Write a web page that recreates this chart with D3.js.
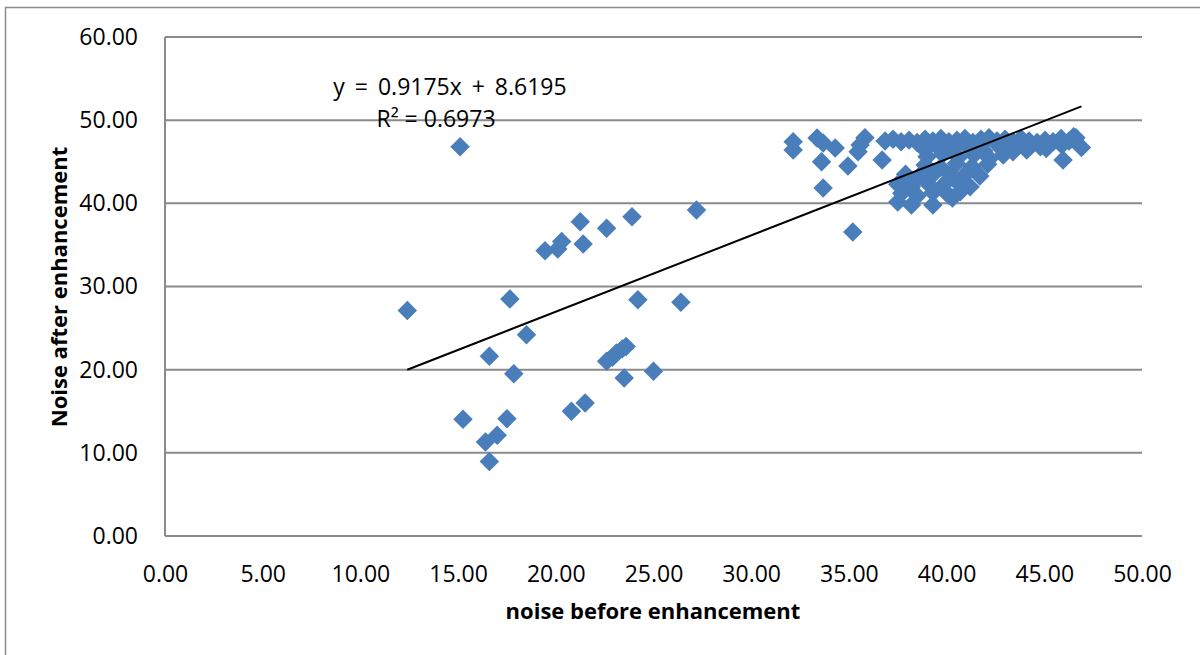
<!DOCTYPE html>
<html>
<head>
<meta charset="utf-8">
<script src="https://cdn.jsdelivr.net/npm/d3@7"></script>
<style>
  body { margin: 0; background: #fff; }
  text { font-family: "Open Sans", "Noto Sans", sans-serif; fill: #000; }
</style>
</head>
<body>
<div id="main"></div>
<script>
// noise before enhancement (x) and after enhancement (y)
const noiseBefore = [
  12.4, 15.1, 15.25, 16.6, 16.4, 16.6, 17.0, 17.5, 17.65, 17.85, 18.5, 19.45, 20.1, 20.3, 21.25,
  21.4, 20.8, 21.5, 22.6, 22.6, 22.9, 23.1, 23.4, 23.6, 23.5, 23.9, 24.2, 25.0, 26.4, 27.2,
  32.15, 32.15, 33.37, 33.68, 33.6, 34.3, 33.68, 34.95, 35.2, 35.57, 35.82, 35.47, 36.7,
  36.85, 37.26, 37.67, 38.08, 38.49, 38.9, 39.3, 39.71, 40.12, 40.53, 40.94, 41.35, 41.76,
  42.17, 42.58, 42.99, 43.4, 43.81, 44.22, 44.63, 45.04, 45.45, 45.86, 46.27, 46.62,
  39.5, 40.3, 41.1, 41.9, 42.7, 43.5, 44.3, 45.1, 45.9, 46.9, 38.9,
  39.0, 39.8, 40.6, 41.4, 42.2, 42.9, 43.4, 44.1, 44.8,
  38.9, 39.7, 40.5, 41.3, 42.1,
  37.9, 38.6, 39.4, 40.2, 41.0, 41.7,
  37.5, 38.2, 39.0, 39.8, 40.6, 41.2,
  37.7, 38.5, 39.3, 40.1, 40.7,
  37.5, 38.2, 39.3, 40.3,
  45.96, 46.5
];
const noiseAfter = [
  27.1, 46.8, 14.05, 8.95, 11.3, 21.6, 12.1, 14.1, 28.5, 19.5, 24.2, 34.3, 34.5, 35.4, 37.8,
  35.1, 15.0, 16.0, 21.0, 37.0, 21.5, 22.0, 22.5, 22.8, 19.0, 38.4, 28.4, 19.8, 28.1, 39.2,
  47.4, 46.4, 47.85, 47.25, 45.0, 46.65, 41.85, 44.5, 36.55, 47.0, 47.9, 46.2, 45.2,
  47.5, 47.7, 47.4, 47.6, 47.3, 47.7, 47.5, 47.8, 47.4, 47.6, 47.8, 47.3, 47.7,
  47.9, 47.5, 47.7, 47.4, 47.8, 47.5, 47.3, 47.6, 47.4, 47.8, 47.5, 47.9,
  46.9, 46.5, 46.7, 46.3, 46.8, 46.5, 46.9, 46.6, 47.0, 46.7, 46.4,
  45.6, 45.9, 45.5, 45.8, 45.4, 45.8, 46.2, 46.4, 46.8,
  44.6, 44.3, 44.8, 44.4, 44.7,
  43.5, 43.3, 43.7, 43.4, 43.6, 43.3,
  42.3, 42.0, 42.5, 42.1, 42.4, 42.0,
  41.2, 40.9, 41.3, 41.0, 41.4,
  40.15, 39.8, 39.8, 40.65,
  45.2, 48.0
];

const xTicks = [0, 5, 10, 15, 20, 25, 30, 35, 40, 45, 50];
const yTicks = [0, 10, 20, 30, 40, 50, 60];

// linear trendline as printed on the chart
const slope = 0.9175;
const intercept = 8.6195;
const r2 = 0.6973;

const width = 1200, height = 655;
const margin = {top: 37, right: 58, bottom: 119, left: 165};

const svg = d3.select("#main").append("svg")
    .attr("width", width)
    .attr("height", height);

// outer chart frame
svg.append("rect")
    .attr("x", 5.5).attr("y", 7.5)
    .attr("width", width + 20).attr("height", height + 20)
    .attr("fill", "none")
    .attr("stroke", "#8c8c8c")
    .attr("stroke-width", 1.5);

const x = d3.scaleLinear().domain([0, 50]).range([margin.left, width - margin.right]);
const y = d3.scaleLinear().domain([0, 60]).range([height - margin.bottom, margin.top]);

// horizontal gridlines
svg.append("g")
    .selectAll("line")
    .data(yTicks)
    .enter().append("line")
    .attr("x1", x(0)).attr("x2", x(50))
    .attr("y1", d => y(d)).attr("y2", d => y(d))
    .attr("stroke", "#8a8a8a")
    .attr("stroke-width", 2);

// y axis line
svg.append("line")
    .attr("x1", x(0)).attr("x2", x(0))
    .attr("y1", y(0)).attr("y2", y(60))
    .attr("stroke", "#8a8a8a")
    .attr("stroke-width", 2);

// axes (labels only)
svg.append("g")
    .attr("transform", "translate(0," + y(0) + ")")
    .call(d3.axisBottom(x).tickValues(xTicks).tickSize(0).tickPadding(30).tickFormat(d3.format(".2f")))
    .call(g => g.select(".domain").remove())
    .selectAll("text")
    .style("font-size", "23px")
    .style("font-family", "'Open Sans', sans-serif");

svg.append("g")
    .attr("transform", "translate(" + x(0) + ",0)")
    .call(d3.axisLeft(y).tickValues(yTicks).tickSize(0).tickPadding(27).tickFormat(d3.format(".2f")))
    .call(g => g.select(".domain").remove())
    .selectAll("text")
    .style("font-size", "23px")
    .style("font-family", "'Open Sans', sans-serif");

// points
const points = noiseBefore.map((v, i) => ({x: v, y: noiseAfter[i]}));

svg.append("g")
    .selectAll("path")
    .data(points)
    .enter().append("path")
    .attr("d", d3.symbol(d3.symbolSquare, 190))
    .attr("transform", d => "translate(" + x(d.x) + "," + y(d.y) + ") rotate(45)")
    .attr("fill", "#4a7ebb");

// trendline over the data range
const xr = d3.extent(noiseBefore);
svg.append("line")
    .attr("x1", x(xr[0])).attr("y1", y(slope * xr[0] + intercept))
    .attr("x2", x(xr[1])).attr("y2", y(slope * xr[1] + intercept))
    .attr("stroke", "#000")
    .attr("stroke-width", 2);

// trendline label
svg.append("text")
    .attr("x", 450).attr("y", 95)
    .style("text-anchor", "middle")
    .style("font-size", "23px")
    .style("word-spacing", "4px")
    .text("y = " + slope + "x + " + intercept);

svg.append("text")
    .attr("x", 436).attr("y", 127)
    .style("text-anchor", "middle")
    .style("font-size", "23px")
    .text("R² = " + r2);

// axis titles
svg.append("text")
    .attr("x", 653).attr("y", 619)
    .style("text-anchor", "middle")
    .style("font-size", "22px")
    .style("font-weight", "bold")
    .text("noise before enhancement");

svg.append("text")
    .style("text-anchor", "middle")
    .style("font-size", "22px")
    .style("font-weight", "bold")
    .attr("transform", "translate(67,287)rotate(-90)")
    .text("Noise after enhancement");
</script>
</body>
</html>
